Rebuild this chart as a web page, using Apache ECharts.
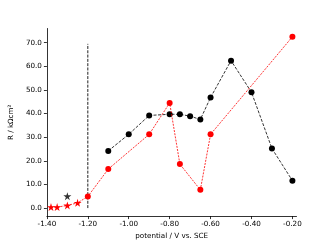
<!DOCTYPE html>
<html>
<head>
<meta charset="utf-8">
<script src="https://cdn.jsdelivr.net/npm/echarts@6/dist/echarts.min.js"></script>
<style>html,body{margin:0;padding:0;background:#fff}#c{width:328px;height:245px}</style>
</head>
<body>
<div id="c"></div>
<script>
// Data
var blackX = [-1.10, -1.00, -0.90, -0.80, -0.75, -0.70, -0.65, -0.60, -0.50, -0.40, -0.30, -0.20];
var blackY = [24.2, 31.2, 39.2, 39.7, 39.7, 38.9, 37.5, 46.8, 62.4, 49.0, 25.2, 11.6];
var blackStarX = [-1.30];
var blackStarY = [5.0];
var redStarX = [-1.38, -1.35, -1.30, -1.25];
var redStarY = [0.4, 0.4, 1.1, 2.2];
var redX = [-1.20, -1.10, -0.90, -0.80, -0.75, -0.65, -0.60, -0.20];
var redY = [4.9, 16.5, 31.2, 44.5, 18.6, 7.7, 31.2, 72.5];
var markerX = [-1.20, -1.20];
var markerY = [0, 69.5];
var xTicks = [-1.40, -1.20, -1.00, -0.80, -0.60, -0.40, -0.20];
var yTicks = [0, 10, 20, 30, 40, 50, 60, 70];

function pairs(xs, ys) { return xs.map(function (x, i) { return [x, ys[i]]; }); }
var STAR = 'path://M50,0 L61.2,34.5 L97.6,34.5 L68.2,55.9 L79.4,90.5 L50,69.1 L20.6,90.5 L31.8,55.9 L2.4,34.5 L38.8,34.5 Z';
var FONT = 'DejaVu Sans';
var redAll = pairs(redStarX, redStarY).concat(pairs(redX, redY));
var nRedStars = redStarX.length;

var chart = echarts.init(document.getElementById('c'), null, { renderer: 'canvas' });
chart.setOption({
  animation: false,
  backgroundColor: '#fff',
  grid: { left: 41, right: 31.5, top: 28.5, bottom: 27.6, containLabel: false },
  xAxis: {
    type: 'value', min: -1.40, max: -0.18,
    name: 'potential / V vs. SCE', nameLocation: 'middle', nameGap: 13.5,
    nameTextStyle: { fontFamily: FONT, fontSize: 7.2, color: '#000' },
    axisLine: { show: true, onZero: false, lineStyle: { color: '#000', width: 0.8 } },
    axisTick: { show: true, length: 3, lineStyle: { color: '#000', width: 0.8 }, customValues: xTicks },
    axisLabel: { fontFamily: FONT, fontSize: 7.2, color: '#000', margin: 5, customValues: xTicks,
      formatter: function (v) { return v.toFixed(2); } },
    splitLine: { show: false }
  },
  yAxis: {
    type: 'value', min: -3.4, max: 76,
    name: 'R / kΩcm²', nameLocation: 'middle', nameGap: 23.5, nameRotate: 90,
    nameTextStyle: { fontFamily: FONT, fontSize: 7.2, color: '#000' },
    axisLine: { show: true, onZero: false, lineStyle: { color: '#000', width: 0.8 } },
    axisTick: { show: true, length: 3, lineStyle: { color: '#000', width: 0.8 }, customValues: yTicks },
    axisLabel: { fontFamily: FONT, fontSize: 7.2, color: '#000', margin: 5, customValues: yTicks,
      formatter: function (v) { return v.toFixed(1); } },
    splitLine: { show: false }
  },
  series: [
    {
      type: 'line', data: pairs(markerX, markerY), symbol: 'none',
      lineStyle: { color: '#222', width: 1, type: [3, 1.3] }, z: 1
    },
    {
      type: 'line', data: pairs(blackX, blackY), symbol: 'circle', symbolSize: 6,
      itemStyle: { color: '#000' },
      lineStyle: { color: '#000', width: 0.8, type: [3, 1.5] }, z: 2
    },
    {
      type: 'scatter', data: pairs(blackStarX, blackStarY), symbol: STAR, symbolSize: 8,
      itemStyle: { color: '#000' }, z: 3
    },
    {
      type: 'line', data: redAll,
      symbol: function (v, p) { return p.dataIndex < nRedStars ? STAR : 'circle'; },
      symbolSize: function (v, p) { return p.dataIndex < nRedStars ? 8 : 6; },
      itemStyle: { color: '#ff0000' },
      lineStyle: { color: '#ff0000', width: 0.8, type: [2, 1.2] }, z: 4
    }
  ]
});
</script>
</body>
</html>
